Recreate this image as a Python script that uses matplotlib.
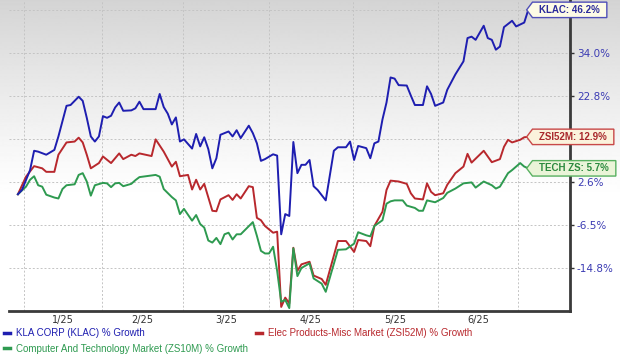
"""KLAC vs sector/industry % growth, zacks-style line chart."""
import numpy as np
import matplotlib
matplotlib.use('Agg')
import matplotlib.pyplot as plt
from matplotlib.path import Path
from matplotlib.lines import Line2D

# trading-day index (0 = 12/30/24) and % growth
klac_day = [0, 1, 3, 4, 5, 7, 9, 10, 12, 13, 14, 15, 16, 17, 18, 19, 20, 21, 22, 23, 24, 25, 26, 28, 29,
            30, 31, 34, 35, 36, 37, 38, 39, 40, 41, 43, 44, 45, 46, 47, 48, 49, 50, 52, 53, 54, 55, 57,
            58, 59, 60, 61, 63, 64, 65, 66, 67, 68, 69, 70, 71, 72, 73, 74, 76, 78, 79, 81, 82, 83, 84,
            86, 87, 88, 89, 90, 91, 92, 93, 94, 96, 97, 98, 100, 101, 102, 103, 105, 106, 108, 110, 111,
            112, 113, 115, 116, 117, 118, 119, 120, 122, 123, 125, 126]
klac_pct = [0.0, 0.9, 5.3, 9.7, 9.5, 8.8, 9.9, 13.0, 20.4, 20.6, 21.6, 22.6, 21.6, 17.5, 13.0, 11.8, 13.0,
            17.9, 17.5, 18.0, 20.0, 21.2, 19.2, 19.3, 19.8, 21.4, 19.6, 19.6, 23.3, 20.1, 18.5, 15.9, 17.6,
            11.8, 12.3, 10.2, 13.6, 10.7, 12.8, 10.1, 5.7, 8.0, 13.4, 14.2, 13.0, 14.5, 12.6, 15.6, 13.8,
            11.4, 7.4, 7.8, 8.9, 8.6, -8.3, -4.2, -4.6, 11.7, 4.6, 6.5, 6.5, 7.6, 1.7, 0.9, -1.3, 9.7,
            10.5, 10.5, 11.8, 7.6, 10.8, 10.3, 8.0, 11.4, 11.8, 17.1, 21.2, 27.6, 27.3, 25.6, 25.5, 22.9,
            20.6, 20.6, 25.3, 23.3, 20.4, 21.2, 24.4, 28.4, 31.8, 38.2, 38.6, 37.7, 41.7, 38.2, 37.7, 34.9,
            35.8, 41.3, 43.1, 41.5, 42.6, 46.2]

zsi_day = [0, 2, 4, 6, 7, 9, 10, 12, 14, 15, 16, 17, 18, 20, 21, 23, 25, 26, 28, 29, 30, 33, 34, 36, 37,
           38, 39, 40, 42, 43, 44, 45, 46, 48, 49, 50, 52, 53, 54, 55, 57, 58, 59, 60, 61, 63, 64, 65, 66,
           67, 68, 69, 70, 72, 73, 75, 76, 79, 81, 83, 84, 86, 87, 88, 90, 91, 92, 94, 96, 97, 98, 100,
           101, 102, 103, 105, 106, 108, 110, 111, 112, 115, 116, 117, 119, 120, 121, 122, 124, 125, 126]
zsi_pct = [0.0, 3.8, 6.2, 5.7, 4.9, 4.9, 8.8, 11.6, 11.8, 12.7, 11.6, 8.8, 5.7, 6.9, 8.4, 6.9, 9.1, 7.8,
           8.8, 8.5, 9.1, 8.5, 12.3, 9.5, 7.8, 6.1, 7.2, 3.9, 4.2, 1.0, 3.1, 1.0, 2.2, -3.5, -3.6, -1.1,
           -0.2, -1.2, 0.0, -0.9, 1.7, 1.5, -5.0, -5.5, -6.7, -8.0, -7.8, -21.5, -19.9, -20.9, -10.9,
           -15.3, -14.1, -13.6, -16.1, -16.7, -17.7, -9.6, -9.6, -11.7, -9.4, -9.6, -10.6, -6.7, -3.7,
           0.9, 2.9, 2.7, 2.2, 0.2, -0.9, -1.1, 2.3, 0.5, -0.2, 0.2, 2.0, 4.6, 6.1, 9.0, 7.0, 9.7, 8.4,
           7.1, 7.8, 10.6, 12.2, 11.6, 12.2, 12.8, 12.9]

tech_day = [0, 2, 3, 4, 5, 6, 7, 9, 10, 11, 12, 14, 15, 16, 17, 18, 19, 21, 22, 23, 24, 25, 26, 28, 29,
            30, 34, 35, 36, 38, 39, 40, 41, 43, 44, 45, 46, 47, 48, 49, 50, 51, 52, 53, 54, 55, 58, 59,
            60, 61, 62, 63, 64, 65, 66, 67, 68, 69, 70, 72, 73, 75, 76, 79, 81, 83, 84, 86, 87, 88, 90,
            91, 92, 93, 95, 96, 98, 99, 100, 101, 103, 105, 106, 108, 110, 112, 113, 115, 117, 118, 119,
            121, 122, 123, 124, 125, 126]
tech_pct = [0.0, 1.6, 3.1, 3.9, 1.9, 1.6, -0.1, -0.7, -0.9, 1.1, 1.9, 2.1, 4.2, 4.6, 2.7, -0.3, 1.9, 2.4,
            2.3, 1.5, 2.3, 2.4, 1.7, 2.2, 3.0, 3.7, 4.2, 3.8, 1.1, -0.6, -1.3, -4.2, -3.1, -5.6, -4.4,
            -6.3, -7.0, -9.5, -9.9, -9.0, -10.2, -8.3, -8.0, -9.3, -8.3, -8.3, -5.9, -8.6, -11.5, -12.0,
            -12.0, -10.7, -15.3, -20.6, -20.3, -21.7, -11.0, -16.2, -14.8, -13.9, -16.6, -17.5, -18.9,
            -11.3, -11.2, -10.1, -7.9, -8.5, -8.7, -6.7, -5.5, -2.0, -1.5, -1.3, -1.3, -2.4, -2.9, -3.5,
            -3.5, -1.3, -1.7, -0.8, 0.3, 1.2, 2.3, 2.5, 1.4, 2.7, 1.9, 1.2, 1.6, 4.6, 5.3, 6.1, 6.9, 6.1, 5.7]

series_names = ['KLA CORP (KLAC) % Growth',
                'Elec Products-Misc Market (ZSI52M) % Growth',
                'Computer And Technology Market (ZS10M) % Growth']
tag_text = ['KLAC: 46.2%', 'ZSI52M: 12.9%', 'TECH ZS: 5.7%']

month_edges = [1.5, 20.7, 40.7, 62.0, 82.7, 103.7, 123.5]
month_labels = ['1/25', '2/25', '3/25', '4/25', '5/25', '6/25']
y_ticks = [-14.8, -6.5, 2.6, 12.4, 22.8, 34.0, 46.2]
# the two gridlines sitting behind the value flags carry no visible label
y_labels = ['-14.8%', '-6.5%', '2.6%', '', '22.8%', '34.0%', '']

# zacks axis is evenly spaced between its labels (roughly log) -> piecewise scale
scale_vals = [-30.0, -22.2, -14.8, -6.5, 2.6, 12.4, 22.8, 34.0, 46.2, 60.0]
scale_pos = [-1.05, 0, 1, 2, 3, 4, 5, 6, 7, 8.13]

BLUE, RED, GREEN = '#1e1eb0', '#b8282d', '#2e9a50'
plt.rcParams.update({'font.family': ['DejaVu Sans']})


def tag_box(x0, y0, width, height, mutation_size):
    # rectangle with a pointer on the left, like the zacks value flags
    px, py, tip = 0.7 * mutation_size, 0.28 * mutation_size, 0.6 * mutation_size
    l, r, b, t = x0 - px, x0 + width + px, y0 - py, y0 + height + py
    ym = (b + t) / 2
    return Path([(l - tip, ym), (l, b), (r, b), (r, t), (l, t), (l - tip, ym)], closed=True)


fig = plt.figure(figsize=(6.2, 3.55), dpi=100)

# grey-to-white backdrop
bg = fig.add_axes([0, 0, 1, 1], zorder=-1)
yy = np.linspace(0, 355, 356)
shade = 1 - 0.17 * np.clip(1 - yy / 200, 0, 1) ** 1.2
bg.imshow(shade[:, None], cmap='gray', vmin=0, vmax=1, aspect='auto', extent=[0, 1, 0, 1])
bg.axis('off')

ax = fig.add_axes([9 / 620, 44 / 355, 561 / 620, 311 / 355])
ax.patch.set_alpha(0)
ax.set_yscale('function', functions=(lambda v: np.interp(v, scale_vals, scale_pos),
                                     lambda p: np.interp(p, scale_pos, scale_vals)))

l1, = ax.plot(klac_day, klac_pct, color=BLUE, lw=1.4, zorder=4)
l2, = ax.plot(zsi_day, zsi_pct, color=RED, lw=1.4, zorder=3)
l3, = ax.plot(tech_day, tech_pct, color=GREEN, lw=1.4, zorder=3)

ax.set_xlim(-2.2, 136.3)
ax.set_ylim(-22.2, 49.0)

ax.set_xticks(month_edges)
ax.set_xticklabels([])
ax.set_xticks([(a + b) / 2 for a, b in zip(month_edges[:-1], month_edges[1:])], minor=True)
ax.set_xticklabels(month_labels, minor=True)
ax.tick_params(axis='x', which='both', length=0, pad=3, labelsize=7, labelcolor='#333333')

ax.yaxis.tick_right()
ax.set_yticks(y_ticks)
ax.set_yticklabels(y_labels)
ax.yaxis.set_minor_locator(matplotlib.ticker.NullLocator())
ax.tick_params(axis='y', direction='out', length=3, width=1, color='#333333', pad=2,
               labelsize=7.5, labelcolor='#3b3bb3')

ax.grid(True, which='major', color='#c4c4c4', lw=0.7, ls=(0, (2, 2)))
for s in ['left', 'top']:
    ax.spines[s].set_visible(False)
for s in ['right', 'bottom']:
    ax.spines[s].set_color('#3a3a3a')
    ax.spines[s].set_linewidth(2)

# value flags at the end of each line
ends = [(klac_day[-1], klac_pct[-1]), (zsi_day[-1], zsi_pct[-1]), (tech_day[-1], tech_pct[-1])]
flag_fc = ['#fdfbe6', '#fbf2dc', '#eaf4d8']
flag_ec = ['#5050b8', '#c84848', '#58b060']
flag_tc = ['#2b2b9c', '#a8282c', '#2b8a3e']
for (xd, yv), txt, fc, ec, tc in zip(ends, tag_text, flag_fc, flag_ec, flag_tc):
    ax.annotate(txt, (xd, yv), xytext=(11, 0), textcoords='offset pixels', ha='left', va='center',
                fontsize=7, fontweight='bold', family='Liberation Sans', color=tc, zorder=6,
                annotation_clip=False,
                bbox=dict(boxstyle=tag_box, fc=fc, ec=ec, lw=1))

handles = [Line2D([], [], color=BLUE, lw=2.5), Line2D([], [], color=GREEN, lw=2.5),
           Line2D([], [], color=RED, lw=2.5)]
fig.legend(handles, [series_names[0], series_names[2], series_names[1]], ncol=2,
           loc='upper left', bbox_to_anchor=(4 / 620, 1 - 328 / 355), frameon=False,
           prop={'family': 'Liberation Sans', 'size': 7}, labelcolor='linecolor',
           handlelength=0.6, handletextpad=0.6, columnspacing=0.9, labelspacing=0.6,
           borderpad=0, borderaxespad=0)

plt.savefig('out.png', dpi=100)
plt.close()
